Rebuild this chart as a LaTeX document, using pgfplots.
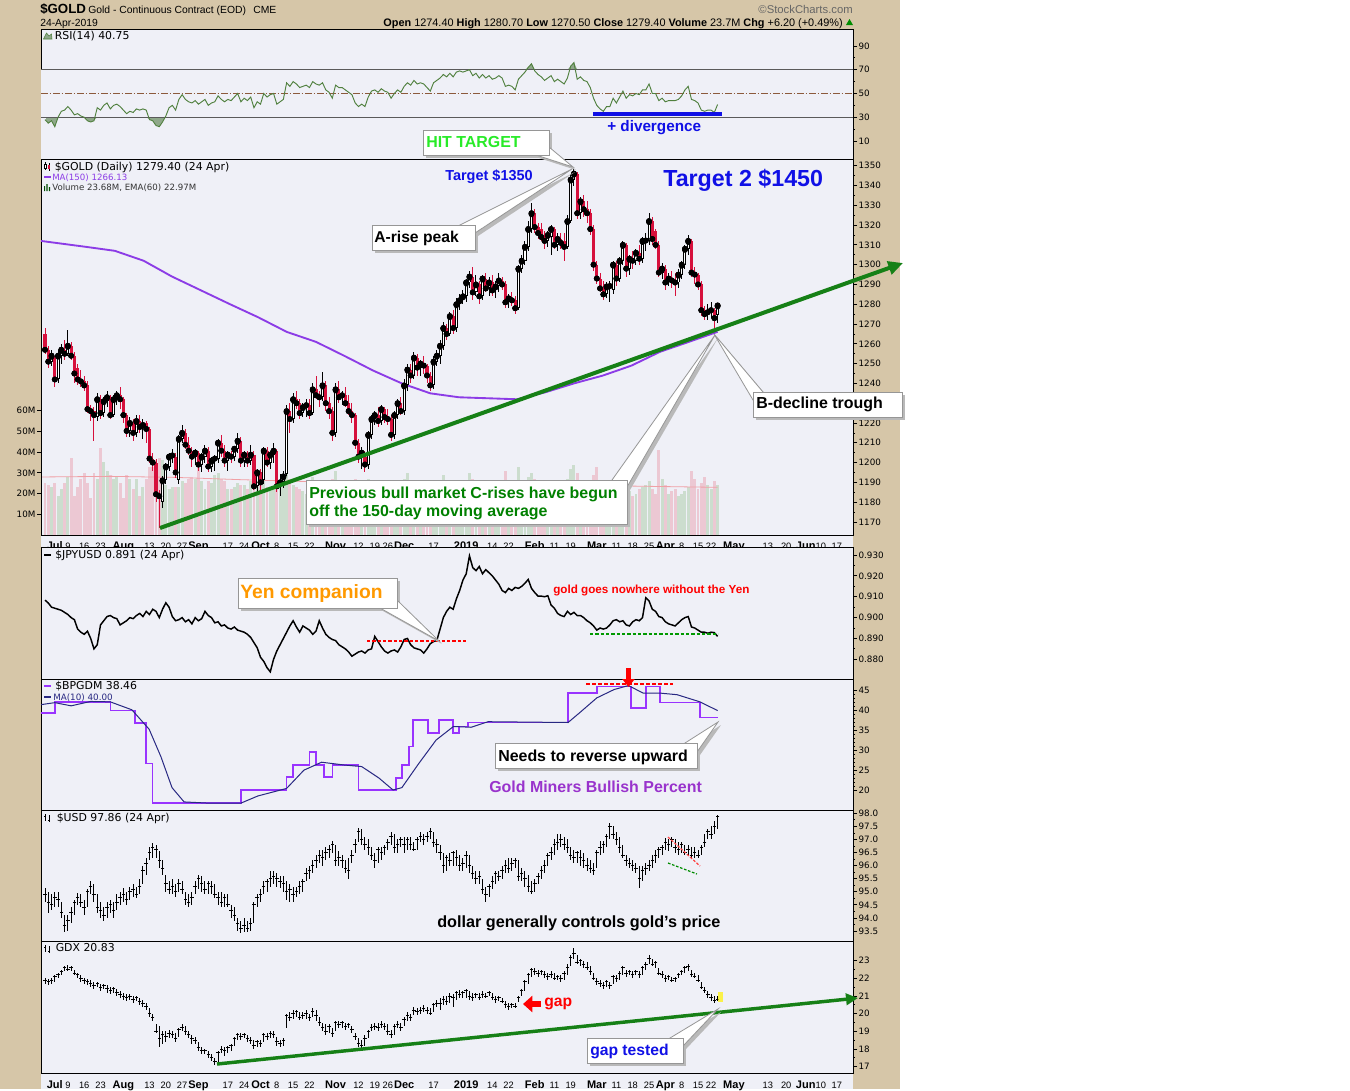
\documentclass[border=0pt]{standalone}
\usepackage{fontspec}
\setmainfont{Liberation Sans}
\newfontfamily\dv{DejaVu Sans}
\usepackage{pgfplots}
\pgfplotsset{compat=1.18}
\usepackage{pgfplotstable}
\usetikzlibrary{arrows.meta}

\definecolor{tanbg}{RGB}{214,198,168}
\definecolor{panelbg}{RGB}{239,240,247}
\definecolor{candred}{RGB}{214,16,60}
\definecolor{ma150}{RGB}{140,60,230}
\definecolor{trendg}{RGB}{22,128,22}
\definecolor{volpink}{RGB}{236,200,211}
\definecolor{volgreen}{RGB}{204,221,206}
\definecolor{volema}{RGB}{240,160,165}
\definecolor{bppurple}{RGB}{153,51,255}
\definecolor{manavy}{RGB}{40,40,130}
\definecolor{rsiline}{RGB}{80,128,62}
\definecolor{rsifill}{RGB}{143,168,138}
\definecolor{rsigrid}{RGB}{90,90,90}
\definecolor{rsimid}{RGB}{140,90,60}
\definecolor{hitgreen}{RGB}{40,235,40}
\definecolor{tblue}{RGB}{16,16,230}
\definecolor{yorange}{RGB}{255,153,0}
\definecolor{gmpurple}{RGB}{153,51,204}
\definecolor{cgrey}{RGB}{150,150,150}
\definecolor{cshadow}{RGB}{185,185,185}
\definecolor{dkgreen}{RGB}{0,128,0}

\newcommand\mo[1]{{\fontsize{8.3}{9}\selectfont\bfseries #1}}

\pgfplotstableread{
i o h l c v r j uh ul uc gh gl gc
0 1265 1268 1255 1257 25 28 0.9084 95.15 94.6 94.9 22.0 21.7 21.9
1 1257 1259 1248 1251 24 25 0.9070 95.0 94.2 94.6 21.95 21.6 21.8
2 1251 1257 1249 1254 23 27 0.9050 94.9 94.3 94.5 22.0 21.7 21.9
3 1253 1254 1238 1242 25 22 0.9045 95.0 94.4 94.8 22.2 21.8 22.1
4 1242 1257 1240 1254 19 30 0.9040 95.0 94.4 94.7 22.3 22.0 22.2
5 1254 1260 1250 1257 22 35 0.9035 94.6 94.0 94.2 22.5 22.2 22.4
6 1257 1262 1252 1255 25 36 0.9025 94.1 93.45 93.7 22.7 22.4 22.6
7 1255 1267 1254 1259 28 39 0.9015 94.1 93.5 93.9 22.75 22.4 22.5
8 1259 1261 1252 1254 37 36 0.9000 94.4 93.8 94.2 22.7 22.4 22.6
9 1254 1256 1240 1245 19 32 0.8990 94.7 94.1 94.6 22.5 22.2 22.3
10 1248 1250 1239 1242 23 33 0.8945 94.95 94.5 94.8 22.3 22.0 22.2
11 1242 1247 1238 1241 27 31 0.8930 94.9 94.4 94.6 22.2 21.8 22.0
12 1241 1244 1236 1239 30 30 0.8920 94.7 94.1 94.4 22.0 21.7 21.9
13 1239 1241 1225 1227 25 27 0.8935 95.1 94.4 95.0 21.95 21.6 21.8
14 1227 1229 1221 1226 18 26 0.8900 95.42 94.9 95.2 21.9 21.5 21.7
15 1226 1228 1211 1224 30 27 0.8850 95.3 94.6 94.9 21.8 21.4 21.6
16 1223 1235 1221 1232 27 38 0.8870 94.9 94.2 94.4 21.8 21.5 21.7
17 1232 1234 1222 1225 42 36 0.8965 94.6 94.0 94.3 21.7 21.3 21.5
18 1225 1233 1223 1231 35 40 0.8985 94.4 93.9 94.1 21.7 21.4 21.6
19 1231 1236 1228 1233 31 42 0.9005 94.6 94.0 94.4 21.6 21.2 21.4
20 1233 1234 1222 1224 29 37 0.9010 94.7 94.2 94.5 21.5 21.1 21.3
21 1224 1234 1223 1232 27 40 0.9000 94.6 94.0 94.3 21.5 21.2 21.4
22 1232 1236 1229 1234 28 41 0.8995 94.9 94.3 94.6 21.4 21.0 21.2
23 1234 1238 1227 1232 25 39 0.8965 95.0 94.5 94.8 21.3 20.9 21.1
24 1232 1233 1220 1224 18 36 0.8975 95.15 94.6 94.9 21.2 20.8 21.0
25 1224 1225 1213 1216 29 33 0.8985 95.0 94.5 94.7 21.1 20.7 20.9
26 1216 1223 1213 1220 27 35 0.9000 95.2 94.7 95.0 21.1 20.8 21.0
27 1220 1222 1211 1215 22 34 0.8995 95.3 94.8 95.1 21.0 20.6 20.8
28 1215 1224 1213 1221 27 37 0.9010 95.2 94.75 94.9 21.0 20.7 20.9
29 1221 1224 1215 1218 19 36 0.9020 95.5 94.9 95.2 20.9 20.5 20.7
30 1218 1222 1212 1219 23 37 0.9005 96.0 95.3 95.8 20.8 20.4 20.6
31 1220 1221 1210 1217 27 36 0.9030 96.3 95.66 96.1 20.6 20.2 20.4
32 1217 1218 1200 1202 33 28 0.9015 96.7 96.2 96.5 20.3 19.8 20.0
33 1202 1205 1196 1200 33 27 0.9040 96.86 96.3 96.7 20.0 19.6 19.8
34 1200 1202 1180 1184 36 23 0.9030 96.8 96.3 96.6 19.4 18.9 19.0
35 1184 1186 1167 1183 37 22 0.9000 96.55 95.9 96.2 19.3 18.1 18.6
36 1180 1193 1177 1191 36 26 0.9040 96.2 95.66 95.9 19.0 18.3 18.8
37 1191 1200 1189 1198 24 31 0.9071 95.66 95.0 95.3 19.0 18.4 18.7
38 1198 1205 1196 1203 22 38 0.9050 95.4 94.9 95.1 19.1 18.6 18.9
39 1203 1207 1200 1203.6 23 40 0.9005 95.5 94.9 95.2 19.0 18.6 18.8
40 1203 1205 1192 1195 23 36 0.8985 95.3 94.8 95.0 18.9 18.4 18.6
41 1191 1214 1189 1212 23 45 0.8990 95.5 95.0 95.3 19.2 18.7 19.1
42 1212 1219 1210 1215 26 49 0.9000 95.4 94.9 95.1 19.4 19.0 19.2
43 1215 1217 1207 1209 25 45 0.8980 95.0 94.5 94.7 19.3 18.8 19.0
44 1209 1213 1204 1206 27 43 0.8990 94.9 94.4 94.6 19.0 18.6 18.8
45 1206 1208 1198 1203 28 42 0.8970 95.0 94.5 94.8 18.8 18.3 18.6
46 1203 1207 1199 1205 27 44 0.9000 95.4 94.9 95.2 18.7 18.3 18.5
47 1205 1206 1196 1199 33 41 0.8985 95.66 95.1 95.5 18.4 17.9 18.1
48 1199 1205 1195 1203 26 43 0.8995 95.6 95.0 95.3 18.1 17.7 17.9
49 1203 1209 1200 1206 22 45 0.9030 95.4 94.9 95.1 18.0 17.7 17.9
50 1206 1208 1195 1198 26 40 0.9010 95.4 94.9 95.3 17.9 17.5 17.7
51 1198 1203 1195 1201 25 42 0.9000 95.4 94.9 95.2 17.7 17.3 17.5
52 1201 1204 1196 1202 29 43 0.8975 95.3 94.75 94.9 17.5 17.1 17.3
53 1202 1212 1200 1210 30 48 0.8980 95.0 94.5 94.8 17.9 17.2 17.8
54 1210 1214 1203 1206 27 45 0.8960 95.0 94.4 94.6 18.2 17.8 18.0
55 1206 1209 1198 1201 26 43 0.8965 94.9 94.4 94.8 18.1 17.6 17.9
56 1201 1206 1196 1204 22 45 0.8950 94.9 94.4 94.5 18.2 17.8 18.1
57 1204 1206 1200 1203 22 44 0.8945 94.5 94.0 94.3 18.3 17.9 18.2
58 1203 1208 1201 1207 23 47 0.8955 94.4 93.9 94.1 18.7 18.2 18.6
59 1207 1215 1205 1211 25 50 0.8940 94.0 93.5 93.8 18.9 18.5 18.8
60 1211 1213 1198 1201 24 43 0.8935 93.9 93.42 93.6 18.9 18.5 18.7
61 1201 1206 1198 1204 24 46 0.8930 94.0 93.45 93.7 18.9 18.6 18.8
62 1204 1206 1198 1201 22 44 0.8920 93.9 93.45 93.6 18.8 18.4 18.6
63 1201 1209 1199 1204 26 47 0.8905 94.0 93.5 93.8 18.7 18.3 18.5
64 1204 1206 1186 1188 31 38 0.8880 94.6 93.8 94.5 18.5 18.0 18.2
65 1188 1197 1185 1195 28 43 0.8855 94.9 94.4 94.8 18.5 18.1 18.4
66 1195 1197 1186 1190 26 41 0.8810 95.1 94.6 94.9 18.5 18.1 18.3
67 1191 1208 1189 1206 27 50 0.8790 95.4 94.9 95.2 18.9 18.4 18.8
68 1206 1208 1198 1200 23 47 0.8760 95.5 95.0 95.4 18.9 18.5 18.7
69 1200 1206 1197 1204 21 49 0.8740 95.8 95.2 95.5 19.0 18.6 18.9
70 1204 1210 1200 1206 22 50 0.8800 95.8 95.3 95.6 19.0 18.6 18.8
71 1206 1207 1185 1188 29 41 0.8840 95.7 95.2 95.5 18.7 18.2 18.4
72 1188 1194 1183 1190 24 43 0.8870 95.6 95.15 95.4 18.5 18.1 18.3
73 1190 1196 1187 1193 25 45 0.8900 95.6 95.0 95.3 18.6 18.2 18.5
74 1194 1229 1193 1226 30 59 0.8930 95.4 94.7 95.0 20.0 19.2 19.9
75 1226 1230 1215 1222 27 56 0.8960 95.3 94.6 95.1 20.1 19.6 19.8
76 1222 1235 1220 1232 24 60 0.8985 95.2 94.6 94.9 20.2 19.7 20.0
77 1232 1236 1227 1230 23 58 0.8955 95.2 94.8 95.0 20.2 19.8 20.1
78 1230 1232 1222 1225 22 55 0.8930 95.4 94.9 95.2 20.1 19.65 19.8
79 1225 1230 1223 1228 21 56 0.8960 95.5 95.0 95.4 20.1 19.7 19.9
80 1228 1232 1223 1229 20 57 0.8950 95.9 95.4 95.7 20.2 19.7 20.0
81 1229 1232 1222 1225 22 55 0.8940 96.0 95.5 95.8 20.0 19.6 19.8
82 1225 1240 1224 1237 28 60 0.8920 96.2 95.7 96.0 20.3 19.8 20.1
83 1237 1244 1232 1234 25 58 0.8935 96.4 95.9 96.2 20.2 19.6 19.9
84 1234 1236 1228 1233 21 57 0.8985 96.6 96.1 96.4 19.8 19.3 19.5
85 1233 1246 1231 1239 26 59 0.8950 96.6 96.0 96.3 19.5 19.0 19.2
86 1239 1241 1226 1230 22 53 0.8920 96.7 96.2 96.5 19.4 18.8 19.0
87 1230 1233 1222 1226 23 51 0.8905 96.8 96.3 96.6 19.4 18.9 19.3
88 1226 1228 1211 1215 27 46 0.8895 96.93 96.5 96.8 19.2 18.7 18.9
89 1215 1240 1213 1237 31 57 0.8890 96.8 96.0 96.2 19.6 19.0 19.5
90 1237 1241 1230 1233 25 55 0.8870 96.55 96.0 96.3 19.6 19.2 19.4
91 1233 1236 1229 1234 20 55 0.8860 96.4 95.9 96.2 19.6 19.2 19.5
92 1234 1238 1228 1230 22 53 0.8850 96.2 95.7 95.9 19.5 19.1 19.3
93 1230 1234 1224 1226 21 51 0.8835 96.3 95.5 95.8 19.5 19.2 19.4
94 1226 1230 1220 1224 19 49 0.8815 96.6 96.1 96.4 19.3 18.9 19.1
95 1224 1225 1207 1210 27 42 0.8825 97.0 96.5 96.8 18.9 18.5 18.7
96 1210 1212 1200 1203 24 39 0.8835 97.44 96.9 97.3 18.6 18.1 18.3
97 1203 1208 1197 1205 25 41 0.8840 97.4 96.8 97.0 18.5 18.0 18.2
98 1203 1206 1195 1199 26 39 0.8830 97.1 96.6 96.8 18.8 18.2 18.6
99 1199 1216 1197 1214 27 47 0.8845 97.0 96.4 96.7 19.1 18.6 19.0
100 1214 1224 1212 1222 26 52 0.8850 96.7 96.2 96.4 19.4 19.0 19.2
101 1222 1226 1219 1224 21 53 0.8910 96.5 95.9 96.2 19.5 19.1 19.3
102 1224 1228 1218 1221 19 51 0.8885 96.7 96.1 96.6 19.5 19.0 19.2
103 1221 1229 1219 1227 18 54 0.8860 96.7 96.2 96.5 19.6 19.2 19.4
104 1227 1228 1220 1223 12 52 0.8840 96.8 96.4 96.7 19.5 19.1 19.3
105 1223 1227 1219 1222 17 51 0.8830 97.0 96.6 96.9 19.4 18.8 19.0
106 1222 1224 1211 1214 23 46 0.8840 97.3 96.8 97.1 19.1 18.6 18.8
107 1214 1226 1212 1224 22 50 0.8845 97.2 96.5 96.7 19.4 18.8 19.3
108 1224 1232 1222 1230 24 53 0.8835 97.0 96.5 96.8 19.6 19.2 19.4
109 1230 1233 1224 1226 25 51 0.8860 97.1 96.7 97.0 19.5 19.0 19.2
110 1226 1242 1224 1239 27 56 0.8895 97.1 96.5 96.8 19.8 19.3 19.7
111 1239 1250 1236 1247 30 59 0.8900 97.1 96.6 97.0 20.1 19.6 19.9
112 1247 1250 1240 1244 26 57 0.8870 97.1 96.6 96.8 20.0 19.6 19.8
113 1244 1256 1242 1253 25 61 0.8855 96.9 96.55 96.6 20.4 19.9 20.2
114 1253 1255 1244 1248 22 58 0.8850 97.1 96.6 97.0 20.3 19.9 20.1
115 1248 1252 1244 1250 24 59 0.8845 97.3 96.9 97.1 20.4 20.0 20.2
116 1250 1254 1245 1249 21 58 0.8830 97.2 96.8 97.0 20.5 20.1 20.3
117 1249 1250 1240 1244 20 55 0.8850 97.3 96.9 97.1 20.4 20.0 20.2
118 1244 1246 1236 1239 22 52 0.8875 97.44 97.0 97.3 20.3 19.9 20.0
119 1239 1254 1237 1251 25 59 0.8885 97.3 96.7 96.9 20.6 20.1 20.5
120 1251 1257 1249 1254 23 61 0.8890 97.0 96.5 96.8 20.8 20.4 20.6
121 1254 1262 1250 1259 26 63 0.8945 96.8 96.2 96.5 20.9 20.2 20.6
122 1259 1271 1257 1268 29 66 0.9000 96.5 95.7 96.0 21.0 20.5 20.8
123 1268 1270 1262 1265 21 64 0.9030 96.4 95.8 96.3 21.0 20.5 20.7
124 1265 1276 1264 1274 12 67 0.9050 96.5 96.0 96.2 21.15 20.6 21.0
125 1274 1277 1265 1268 18 64 0.9040 96.55 96.0 96.5 21.1 20.4 20.9
126 1268 1283 1266 1280 25 68 0.9090 96.6 96.0 96.3 21.3 20.8 21.2
127 1280 1285 1277 1282 22 69 0.9130 96.4 95.8 96.0 21.35 20.9 21.1
128 1282 1287 1280 1284 18 68 0.9180 96.3 95.8 96.1 21.3 20.9 21.2
129 1284 1293 1281 1291 24 69 0.9210 96.55 95.9 96.4 21.4 20.9 21.3
130 1291 1297 1288 1294 30 70 0.9296 96.4 95.7 96.0 21.3 20.8 21.0
131 1294 1299 1282 1286 27 65 0.9240 96.0 95.5 95.7 21.2 20.7 20.9
132 1286 1295 1284 1290 23 67 0.9225 95.8 95.3 95.5 21.2 20.9 21.1
133 1290 1292 1280 1284 26 63 0.9245 95.8 95.3 95.6 21.2 20.8 20.9
134 1284 1295 1282 1293 22 66 0.9210 95.5 94.9 95.1 21.3 20.9 21.1
135 1293 1296 1286 1288 24 63 0.9230 95.2 94.6 94.9 21.2 20.9 21.0
136 1288 1294 1284 1291 21 65 0.9215 95.3 94.8 95.2 21.3 21.0 21.2
137 1291 1295 1284 1287 19 62 0.9200 95.6 95.1 95.4 21.2 20.8 20.9
138 1287 1292 1283 1289 23 63 0.9180 95.8 95.3 95.7 21.0 20.6 20.8
139 1289 1296 1286 1292 24 65 0.9160 95.8 95.4 95.6 21.0 20.7 20.9
140 1292 1294 1287 1290 22 63 0.9130 96.0 95.5 95.8 20.9 20.6 20.7
141 1290 1292 1278 1281 31 56 0.9120 96.2 95.7 96.0 20.7 20.3 20.5
142 1281 1285 1278 1283 20 57 0.9140 96.3 95.7 95.9 20.6 20.2 20.4
143 1283 1286 1279 1282 19 56 0.9130 96.3 95.8 96.1 20.6 20.3 20.5
144 1282 1284 1275 1278 23 53 0.9145 96.3 95.9 96.2 20.6 20.3 20.4
145 1278 1300 1277 1298 33 62 0.9140 96.2 95.4 95.6 21.0 20.65 20.9
146 1298 1305 1296 1302 24 65 0.9150 95.9 95.4 95.7 21.4 21.0 21.3
147 1302 1312 1300 1309 26 68 0.9165 95.8 95.2 95.5 21.9 21.3 21.8
148 1309 1322 1307 1318 28 72 0.9183 95.66 95.0 95.2 22.3 21.7 22.2
149 1318 1331 1316 1326 30 75 0.9140 95.4 94.9 95.0 22.6 22.1 22.5
150 1326 1328 1316 1319 27 69 0.9120 95.5 95.0 95.3 22.6 22.2 22.4
151 1319 1321 1313 1316 20 66 0.9103 95.7 95.3 95.6 22.5 22.1 22.3
152 1318 1321 1312 1314 19 64 0.9103 96.0 95.5 95.8 22.5 22.2 22.4
153 1314 1317 1308 1312 21 61 0.9100 96.2 95.7 96.0 22.4 22.0 22.2
154 1312 1317 1309 1315 18 63 0.9105 96.5 96.0 96.4 22.3 21.9 22.1
155 1314 1320 1305 1318 22 65 0.9060 96.7 96.2 96.5 22.4 22.0 22.2
156 1318 1319 1308 1310 24 60 0.9045 97.0 96.4 96.8 22.3 21.9 22.0
157 1310 1316 1307 1313 20 62 0.9020 97.2 96.6 96.9 22.2 21.9 22.1
158 1313 1316 1308 1311 19 60 0.9010 97.2 96.7 97.0 22.2 21.8 22.0
159 1312 1316 1302 1309 21 58 0.9005 97.1 96.6 96.8 22.4 21.9 22.3
160 1309 1325 1308 1322 27 63 0.9030 97.0 96.5 96.7 22.8 22.2 22.6
161 1322 1346 1321 1343 32 73 0.9015 96.7 96.2 96.4 23.3 22.7 23.2
162 1343 1349 1340 1346 34 76 0.9025 96.6 96.1 96.3 23.7 23.1 23.4
163 1346 1347 1323 1326 30 62 0.9010 96.55 96.1 96.5 23.3 22.8 22.9
164 1326 1334 1323 1332 23 64 0.9010 96.6 96.0 96.3 23.1 22.7 23.0
165 1332 1335 1324 1328 21 61 0.9000 96.5 95.9 96.2 23.0 22.6 22.8
166 1328 1332 1321 1326 22 60 0.8985 96.3 95.8 96.0 22.9 22.5 22.6
167 1326 1328 1315 1318 24 55 0.8975 96.2 95.7 95.9 22.7 22.2 22.4
168 1318 1320 1297 1300 29 46 0.8960 96.1 95.66 95.8 22.3 21.9 22.0
169 1300 1302 1290 1293 33 40 0.8940 96.6 95.9 96.5 22.0 21.6 21.8
170 1293 1296 1286 1288 23 37 0.8950 96.93 96.4 96.7 21.9 21.5 21.7
171 1288 1292 1282 1285 22 35 0.8945 96.93 96.5 96.8 21.8 21.4 21.6
172 1285 1291 1283 1289 20 39 0.8950 97.2 96.7 97.1 21.9 21.5 21.8
173 1288.6 1292 1281 1289.2 21 39 0.8965 97.63 97.0 97.5 21.8 21.4 21.6
174 1287 1302 1285 1300 26 46 0.8985 97.5 97.0 97.2 22.2 21.7 22.1
175 1300 1302 1289 1293 22 42 0.8990 97.3 96.8 97.0 22.2 21.8 22.0
176 1293 1304 1291 1302 21 47 0.8980 97.1 96.5 96.7 22.4 21.9 22.3
177 1302 1312 1300 1310 27 52 0.8985 96.8 96.3 96.4 22.7 22.2 22.6
178 1310 1311 1294 1298 25 46 0.8965 96.4 96.0 96.2 22.5 22.1 22.3
179 1298 1305 1295 1303 21 49 0.8960 96.3 95.9 96.1 22.5 22.2 22.4
180 1303 1307 1298 1302 19 48 0.8980 96.2 95.8 96.0 22.4 22.0 22.2
181 1302 1308 1300 1306 20 50 0.8990 96.1 95.7 95.9 22.5 22.2 22.4
182 1306 1310 1300 1303 22 49 0.8985 96.0 95.15 95.5 22.4 22.0 22.2
183 1303 1314 1301 1312 23 53 0.9000 96.0 95.4 95.8 22.7 22.2 22.6
184 1311.5 1316 1307 1312.2 24 53 0.9095 96.1 95.66 95.9 22.9 22.5 22.8
185 1312 1326 1310 1322 26 58 0.9080 96.2 95.8 96.0 23.3 22.8 23.1
186 1322 1324 1310 1313 22 50 0.9040 96.4 95.9 96.2 23.1 22.7 22.8
187 1317 1318 1308 1310 20 50 0.9030 96.6 96.1 96.4 23.0 22.6 22.9
188 1310 1312 1294 1296 41 44 0.9005 96.7 96.3 96.6 22.6 22.2 22.3
189 1296 1301 1293 1298 27 46 0.9000 96.8 96.4 96.7 22.4 22.0 22.2
190 1298 1300 1287 1291 24 43 0.8980 97.05 96.6 96.9 22.2 21.8 22.0
191 1291 1296 1289 1293 20 44 0.8970 97.0 96.55 96.8 22.2 21.9 22.1
192 1293 1297 1288 1292 21 44 0.8965 97.1 96.7 97.0 22.1 21.8 21.9
193 1292 1296 1284 1291 22 44 0.8960 97.0 96.5 96.7 22.1 21.8 22.0
194 1291 1298 1288 1295 19 45 0.8975 96.9 96.4 96.6 22.3 22.0 22.2
195 1295 1302 1293 1300 20 48 0.8990 96.9 96.5 96.8 22.5 22.2 22.4
196 1300 1310 1298 1308 21 53 0.9000 96.8 96.4 96.5 22.7 22.3 22.6
197 1308 1315 1305 1312 23 56 0.9005 96.8 96.4 96.6 22.8 22.4 22.7
198 1312 1313 1294 1296 31 45 0.8955 96.7 96.3 96.4 22.5 22.1 22.2
199 1296 1299 1290 1295 27 44 0.8950 96.7 96.3 96.5 22.3 22.0 22.1
200 1295 1296 1287 1290 22 42 0.8940 96.6 96.3 96.4 22.2 21.8 21.9
201 1290 1292 1274 1277 25 36 0.8930 96.8 96.4 96.7 21.8 21.4 21.5
202 1277 1279 1272 1275 28 35 0.8930 97.2 96.7 96.9 21.5 21.2 21.3
203 1275 1280 1272 1276 24 36 0.8925 97.4 97.0 97.3 21.3 20.9 21.1
204 1276 1281 1273 1277 22 36 0.8930 97.5 97.0 97.2 21.1 20.7 20.9
205 1277 1278 1268 1273 26 34 0.8928 97.7 97.2 97.5 21.0 20.6 20.75
206 1274.4 1280.7 1270.5 1279.4 24 40.75 0.8910 97.95 97.4 97.86 21.0 20.7 20.83
}\data

\pgfplotsset{
  panel/.style={
    scale only axis, width=609bp, xmin=-1.225, xmax=247.47,
    anchor=north west,
    axis background/.style={fill=panelbg},
    axis line style={line width=0.75bp},
    xtick=\empty,
    ytick pos=right, yticklabel pos=right,
    tick align=outside,
    major tick length=3bp, minor tick length=1.5bp,
    tick style={black, line width=0.6bp},
    yticklabel style={font=\dv\fontsize{6.6}{7}\selectfont, inner sep=1bp},
    /pgf/number format/assume math mode=true,
    /pgf/number format/1000 sep={},
  },
  xlab/.style={
    xtick={3,7,12,17,24,32,37,42,47,56,61,66,71,76,81,89,96,101,105,110,119,129,137,142,150,156,161,169,175,180,185,190,195,200,204,211,221.4,227,233,237.6,242.5},
    xticklabels={\mo{Jul},9,16,23,\mo{Aug},13,20,27,\mo{Sep},17,24,\mo{Oct},8,15,22,\mo{Nov},12,19,26,\mo{Dec},17,\mo{2019},14,22,\mo{Feb},11,19,\mo{Mar},11,18,25,\mo{Apr},8,15,22,\mo{May},13,20,\mo{Jun},10,17},
    xticklabel style={font=\fontsize{7}{8}\selectfont, anchor=base, inner sep=0pt},
    major x tick style={draw=none},
  },
  ohlc/.style={only marks, mark=-, mark size=1.3bp, black, mark options={line width=0.75bp},
    error bars/.cd, y dir=both, y explicit, error mark=none, error bar style={black, line width=0.75bp}},
}

\newcommand\callout[2]{%
  \fill[cshadow, shift={(3,3)}] #2 -- cycle;
  \fill[cshadow, shift={(3,3)}] #1;
  \filldraw[fill=white, draw=cgrey, line width=0.6bp] #2 -- cycle;
  \filldraw[fill=white, draw=cgrey, line width=0.6bp] #1;
}

\begin{document}
\begin{tikzpicture}[x=0.75bp,y=-0.75bp]
\fill[white] (0,0) rectangle (1350,1089);
\fill[tanbg] (0,0) rectangle (900,1089);
\fill[panelbg] (41,535) rectangle (853,547);
\fill[panelbg] (41,1073) rectangle (853,1089);

% ---------- RSI ----------
\begin{axis}[panel, at={(30.75bp,-21.75bp)}, height=97.5bp, ymin=-5.2, ymax=104.3,
  ytick={10,30,50,70,90}, minor y tick num=1]
\addplot[fill=rsifill, draw=none] table[x=i, y expr={max(\thisrow{r},70)}]{\data} \closedcycle;
\fill[panelbg] (axis cs:-1.225,-5.2) rectangle (axis cs:247.47,70);
\fill[rsifill] (axis cs:0.3,0) rectangle (axis cs:205.7,30);
\addplot[fill=panelbg, draw=none] table[x=i, y expr={min(\thisrow{r},30)}]{\data} \closedcycle;
\draw[rsigrid, line width=0.75bp] (axis cs:-1.225,70) -- (axis cs:247.47,70);
\draw[rsigrid, line width=0.75bp] (axis cs:-1.225,30) -- (axis cs:247.47,30);
\draw[rsimid, line width=0.6bp, dash pattern=on 5bp off 1.5bp on 1bp off 1.5bp] (axis cs:-1.225,50) -- (axis cs:247.47,50);
\addplot[rsiline, line width=0.7bp] table[x=i,y=r]{\data};
\addplot[tblue, line width=2.3bp] coordinates {(167.8,32.7)(207.3,32.7)};
\end{axis}

% ---------- Volume (behind gold) ----------
\begin{axis}[panel, at={(30.75bp,-119.25bp)}, height=282bp, ymin=0, ymax=181.4,
  ytick pos=left, yticklabel pos=left, ytick={10,20,30,40,50,60},
  yticklabels={10M,20M,30M,40M,50M,60M}, axis line style={draw=none}]
\addplot[ycomb, volgreen, line width=2.2bp, restrict y to domain=0:5000]
  table[x=i, y expr={\thisrow{v}+10000*(\thisrow{c}<\thisrow{o})}]{\data};
\addplot[ycomb, volpink, line width=2.2bp, restrict y to domain=0:5000]
  table[x=i, y expr={\thisrow{v}+10000*(\thisrow{c}>=\thisrow{o})}]{\data};
\addplot[volema, line width=0.6bp] coordinates {(-1.2,28)(20,28.3)(40,27.8)(60,26.7)(80,25.8)(100,24.8)(120,23.8)(140,23.5)(160,23.8)(180,23.6)(206,23.0)};
\end{axis}

% ---------- Gold ----------
\begin{axis}[panel, xlab, at={(30.75bp,-119.25bp)}, height=282bp, ymin=1163.4, ymax=1353.4,
  ytick={1170,1180,...,1350}, minor y tick num=1, axis background/.style={},
  xticklabel style={yshift=-7.5bp}]
\addplot[ma150, line width=1.4bp] coordinates {(-1.2,1312)(12.6,1309)(21.4,1307)(30.2,1302)(38.9,1294)(47.8,1287)(56.7,1280)(65.2,1273.5)(74.1,1266)(83,1261)(91.6,1254)(100.5,1246.5)(109.3,1240)(118,1235)(126.8,1233)(135.7,1232.5)(144.6,1232)(153.2,1235.5)(162,1240)(170.9,1244)(179.6,1249)(188.4,1256)(197.2,1261)(206,1266.1)};
\addplot[only marks, mark=none, restrict y to domain=0:5000, error bars/.cd, y dir=both, y explicit, error mark=none, error bar style={black, line width=0.75bp}]
  table[x=i, y expr={\thisrow{c}+10000*(\thisrow{c}<\thisrow{o})}, y error plus expr={\thisrow{h}-\thisrow{c}}, y error minus expr={\thisrow{c}-\thisrow{l}}]{\data};
\addplot[only marks, mark=none, restrict y to domain=0:5000, error bars/.cd, y dir=both, y explicit, error mark=none, error bar style={candred, line width=0.75bp}]
  table[x=i, y expr={\thisrow{c}+10000*(\thisrow{c}>=\thisrow{o})}, y error plus expr={\thisrow{h}-\thisrow{c}}, y error minus expr={\thisrow{c}-\thisrow{l}}]{\data};
\addplot[only marks, mark=none, restrict y to domain=0:5000, error bars/.cd, y dir=both, y explicit, error mark=none, error bar style={black, line width=2.3bp}]
  table[x=i, y expr={\thisrow{c}+10000*(\thisrow{c}<\thisrow{o})}, y error plus expr={0}, y error minus expr={\thisrow{c}-\thisrow{o}}]{\data};
\addplot[only marks, mark=none, restrict y to domain=0:5000, error bars/.cd, y dir=both, y explicit, error mark=none, error bar style={white, line width=0.8bp}]
  table[x=i, y expr={\thisrow{c}-0.5+10000*((\thisrow{c}-\thisrow{o})<1.2)}, y error plus expr={0}, y error minus expr={\thisrow{c}-\thisrow{o}-1.0}]{\data};
\addplot[only marks, mark=none, restrict y to domain=0:5000, error bars/.cd, y dir=both, y explicit, error mark=none, error bar style={candred, line width=2.3bp}]
  table[x=i, y expr={\thisrow{c}+10000*(\thisrow{c}>=\thisrow{o})}, y error plus expr={\thisrow{o}-\thisrow{c}}, y error minus expr={0}]{\data};
\end{axis}

% ---------- JPYUSD ----------
\begin{axis}[panel, at={(30.75bp,-410.25bp)}, height=99bp, ymin=0.87056, ymax=0.93384,
  ytick={0.88,0.89,0.90,0.91,0.92,0.93}, minor y tick num=1,
  yticklabel style={/pgf/number format/.cd, fixed, fixed zerofill, precision=3}]
\addplot[black, line width=1.1bp] table[x=i,y=j]{\data};
\end{axis}

% ---------- BPGDM ----------
\begin{axis}[panel, at={(30.75bp,-509.25bp)}, height=98.25bp, ymin=14.96, ymax=47.95,
  ytick={20,25,30,35,40,45}, minor y tick num=4]
\addplot[bppurple, line width=1.1bp, const plot] coordinates {(-1.2,39.4)(3,42.2)(20,40)(27.6,36.9)(31,26.7)(33,16.7)(60,20)(74,23.3)(76,26.3)(81,29.6)(83,26.3)(85.5,23.3)(88,26.3)(96,20)(107.5,23)(109.3,26.3)(111.5,30.9)(112.7,37.6)(117.3,34.3)(120.7,37.6)(125,34.3)(126.8,36)(129.6,37)(160.2,44.4)(169,46)(179.5,40.6)(184,46)(188.4,42)(200.6,38.3)(206,38.3)};
\addplot[manavy, line width=0.75bp] coordinates {(-1.2,41.5)(3,42.0)(8,41.2)(14,42.3)(20,42.2)(26.6,40.2)(31.9,35.3)(35.5,28.4)(38.9,20.6)(42.6,17.0)(50,16.7)(60,16.7)(65.2,18.5)(74,20.4)(79.3,25.0)(84.7,27.0)(91.6,26.3)(97,25.9)(102.3,23.0)(106.6,20.0)(109.3,20.6)(114.5,26.7)(119.8,32.6)(125.1,36.0)(130.5,35.8)(135.7,37.2)(160.2,37.0)(163.8,39.5)(169,43.2)(174.3,45.3)(178.7,46.3)(183.2,44.4)(188.4,44.4)(193.6,44.0)(200.6,42.2)(206,40.0)};
\end{axis}

% ---------- USD ----------
\begin{axis}[panel, at={(30.75bp,-607.5bp)}, height=98.25bp, ymin=93.118, ymax=98.126,
  ytick={93.5,94.0,94.5,95.0,95.5,96.0,96.5,97.0,97.5,98.0}, minor y tick num=1,
  yticklabel style={/pgf/number format/.cd, fixed, fixed zerofill, precision=1}]
\addplot[ohlc] table[x=i, y=uc, y error plus expr={\thisrow{uh}-\thisrow{uc}}, y error minus expr={\thisrow{uc}-\thisrow{ul}}]{\data};
\end{axis}

% ---------- GDX ----------
\begin{axis}[panel, xlab, at={(30.75bp,-705.75bp)}, height=99bp, ymin=16.643, ymax=24.115,
  ytick={17,18,19,20,21,22,23}, minor y tick num=1, xticklabel style={yshift=-8.25bp}]
\addplot[ohlc] table[x=i, y=gc, y error plus expr={\thisrow{gh}-\thisrow{gc}}, y error minus expr={\thisrow{gc}-\thisrow{gl}}]{\data};
\end{axis}

% ---------- header ----------
\node[anchor=base west, inner sep=0, font=\fontsize{10}{12}\selectfont\bfseries] at (40,13.5) {\$GOLD};
\node[anchor=base west, inner sep=0, font=\fontsize{7.8}{9}\selectfont] at (88,13.5) {Gold - Continuous Contract (EOD)};
\node[anchor=base west, inner sep=0, font=\fontsize{7.8}{9}\selectfont] at (253,13.5) {CME};
\node[anchor=base west, inner sep=0, font=\fontsize{7.8}{9}\selectfont] at (40,26) {24-Apr-2019};
\node[anchor=base east, inner sep=0, font=\fontsize{8.2}{9}\selectfont] at (843,26) {\textbf{Open} 1274.40 \textbf{High} 1280.70 \textbf{Low} 1270.50 \textbf{Close} 1279.40 \textbf{Volume} 23.7M \textbf{Chg} +6.20 (+0.49\%)};
\fill[green!55!black] (846,25) -- (853,25) -- (849.5,19) -- cycle;
\node[anchor=base east, inner sep=0, font=\fontsize{8.5}{9}\selectfont, text=black!60] at (853,13) {\textcopyright StockCharts.com};

% ---------- panel labels ----------
\fill[rsifill, draw=rsiline, line width=0.4bp] (43.5,39) -- (46.5,33) -- (49,36) -- (51.5,34) -- (52,39) -- cycle;
\node[anchor=base west, inner sep=0, font=\dv\fontsize{8.2}{9}\selectfont] at (54.5,39) {RSI(14) 40.75};
\draw[black, line width=0.6bp] (45,162) -- (45,170) (49,163) -- (49,171);
\fill[white, draw=black, line width=0.4bp] (44,164) rectangle (46,168);
\fill[candred] (48,165) rectangle (50,169);
\node[anchor=base west, inner sep=0, font=\dv\fontsize{8.2}{9}\selectfont] at (54.5,170.5) {\$GOLD (Daily) 1279.40 (24 Apr)};
\draw[ma150, line width=1.3bp] (44,177) -- (51,177);
\node[anchor=base west, inner sep=0, font=\dv\fontsize{6.5}{7}\selectfont, text=ma150] at (52,180.5) {MA(150) 1266.13};
\fill[black!70!green] (44,186) rectangle (45.2,191) (46.4,184) rectangle (47.6,191) (48.8,187) rectangle (50,191);
\node[anchor=base west, inner sep=0, font=\dv\fontsize{6.5}{7}\selectfont, text=black!80] at (52,190.5) {Volume 23.68M, EMA(60) 22.97M};
\draw[black, line width=1.5bp] (44,555) -- (51,555);
\node[anchor=base west, inner sep=0, font=\dv\fontsize{8.2}{9}\selectfont] at (55,558.5) {\$JPYUSD 0.891 (24 Apr)};
\draw[bppurple, line width=1.5bp] (44,686) -- (51,686);
\node[anchor=base west, inner sep=0, font=\dv\fontsize{8.2}{9}\selectfont] at (55,689.5) {\$BPGDM 38.46};
\draw[manavy, line width=1.2bp] (44,697) -- (51,697);
\node[anchor=base west, inner sep=0, font=\dv\fontsize{6.6}{7}\selectfont, text=manavy] at (53,700) {MA(10) 40.00};
\foreach \yy in {814,945} {
  \draw[black, line width=0.6bp] (45,\yy) -- (45,\yy+7) (44,\yy+2) -- (46,\yy+2) (49,\yy+1) -- (49,\yy+8) (48,\yy+6) -- (50,\yy+6);
}
\node[anchor=base west, inner sep=0, font=\dv\fontsize{8.2}{9}\selectfont] at (56.5,821) {\$USD 97.86 (24 Apr)};
\node[anchor=base west, inner sep=0, font=\dv\fontsize{8.2}{9}\selectfont] at (55.5,951.5) {GDX 20.83};

% ---------- dashed guide lines ----------
\draw[red, line width=0.8bp, dash pattern=on 2.5bp off 1.5bp] (367,641) -- (467,641);
\draw[green!60!black, line width=0.8bp, dash pattern=on 2.5bp off 1.5bp] (590,634) -- (718,634);
\draw[red, line width=1.2bp, dash pattern=on 3bp off 1.5bp] (586,684) -- (673,684);
\draw[red!75, line width=0.9bp, dash pattern=on 2bp off 1.2bp] (668,837) -- (700,866);
\draw[green!55!black, line width=0.9bp, dash pattern=on 2bp off 1.2bp] (668,863) -- (697,874);
\fill[yellow, opacity=0.7] (717.5,991.5) rectangle (722.5,1001.5);

% ---------- arrows ----------
\draw[trendg, line width=3bp, -{Triangle[length=11bp, width=10bp]}] (160,528) -- (903,263);
\draw[trendg, line width=2.6bp, -{Triangle[length=9bp, width=8.5bp]}] (217,1064) -- (858,998);
\draw[red, line width=4bp, -{Triangle[length=6bp, width=9bp]}] (628.5,668) -- (628.5,687);
\draw[red, line width=5bp, -{Triangle[length=7bp, width=12bp]}] (541,1004) -- (523,1004);

% ---------- callouts ----------
\callout{(423,130) rectangle (549,155)}{(536,155) -- (549,147) -- (573,167)}
\callout{(372,225) rectangle (475,250)}{(460,225) -- (475,233) -- (572,169)}
\callout{(753,392) rectangle (902,417)}{(714,334) -- (753,400) -- (763,392)}
\callout{(306,480) rectangle (627,524)}{(715,335) -- (612,480) -- (627,487)}
\callout{(238,578) rectangle (397,608)}{(380,608) -- (397,600) -- (439,641)}
\callout{(495,743) rectangle (697,768)}{(685,743) -- (697,752) -- (718,722)}
\callout{(587,1038) rectangle (683,1063)}{(670,1038) -- (683,1046) -- (718,1009)}

% ---------- texts ----------
\node[anchor=base west, inner sep=0, font=\fontsize{12}{13}\selectfont\bfseries, text=hitgreen] at (426,147) {HIT TARGET};
\node[anchor=base west, inner sep=0, font=\fontsize{11.8}{13}\selectfont\bfseries] at (374,242) {A-rise peak};
\node[anchor=base west, inner sep=0, font=\fontsize{10.9}{12}\selectfont\bfseries, text=tblue] at (445,180) {Target \$1350};
\node[anchor=base west, inner sep=0, font=\fontsize{17.5}{19}\selectfont\bfseries, text=tblue] at (663,186.5) {Target 2 \$1450};
\node[anchor=base west, inner sep=0, font=\fontsize{12}{13}\selectfont\bfseries] at (756,408) {B-decline trough};
\node[anchor=base west, inner sep=0, font=\fontsize{12}{13}\selectfont\bfseries, text=dkgreen] at (309,498) {Previous bull market C-rises have begun};
\node[anchor=base west, inner sep=0, font=\fontsize{12}{13}\selectfont\bfseries, text=dkgreen] at (309,516.7) {off the 150-day moving average};
\node[anchor=base west, inner sep=0, font=\fontsize{11.5}{13}\selectfont\bfseries, text=tblue] at (607,131.7) {+ divergence};
\node[anchor=base west, inner sep=0, font=\fontsize{14.5}{16}\selectfont\bfseries, text=yorange] at (240,598) {Yen companion};
\node[anchor=base west, inner sep=0, font=\fontsize{8.8}{10}\selectfont\bfseries, text=red] at (553,593.5) {gold goes nowhere without the Yen};
\node[anchor=base west, inner sep=0, font=\fontsize{12}{13}\selectfont\bfseries] at (498,761.7) {Needs to reverse upward};
\node[anchor=base west, inner sep=0, font=\fontsize{12}{13}\selectfont\bfseries, text=gmpurple] at (489,792.7) {Gold Miners Bullish Percent};
\node[anchor=base west, inner sep=0, font=\fontsize{12.2}{13}\selectfont\bfseries] at (437,927) {dollar generally controls gold's price};
\node[anchor=base west, inner sep=0, font=\fontsize{11.8}{13}\selectfont\bfseries, text=red] at (544,1006) {gap};
\node[anchor=base west, inner sep=0, font=\fontsize{11.8}{13}\selectfont\bfseries, text=tblue] at (590,1055) {gap tested};
\end{tikzpicture}
\end{document}
